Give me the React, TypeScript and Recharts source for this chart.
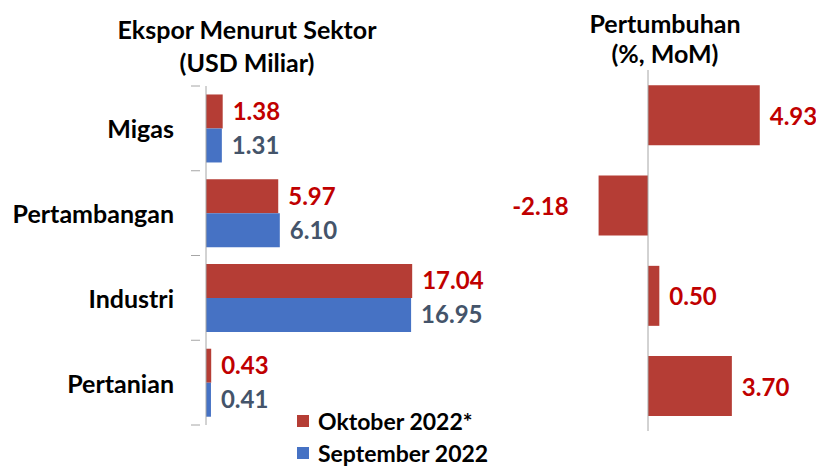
import React from 'react'
import {
  BarChart,
  Bar,
  XAxis,
  YAxis,
  LabelList,
  ReferenceLine,
} from 'recharts'

const sectors = ['Migas', 'Pertambangan', 'Industri', 'Pertanian']
const oktober = [1.38, 5.97, 17.04, 0.43]
const september = [1.31, 6.1, 16.95, 0.41]
const growth = [4.93, -2.18, 0.5, 3.7]

const RED = '#B53D35'
const BLUE = '#4672C4'
const RED_TEXT = '#C00000'
const GRAY_TEXT = '#44546A'
const AXIS = '#A6A6A6'
const FONT = 'Lato, "Open Sans", sans-serif'

const exportData = sectors.map((s, i) => ({
  sector: s,
  okt: oktober[i],
  sep: september[i],
}))
const growthData = sectors.map((s, i) => ({ sector: s, g: growth[i] }))

const fmt = (v: any) => Number(v).toFixed(2)

// category label plus excel-style tick marks between the categories
const SectorTick = (props: any) => {
  const { x, y, payload, index } = props
  const half = payload && payload.offset ? payload.offset : 42
  const axisX = x + 26
  return (
    <g>
      <text
        x={x}
        y={y}
        textAnchor="end"
        dominantBaseline="central"
        fill="#000"
        fontSize={25}
        fontWeight={700}
        fontFamily={FONT}
      >
        {payload.value}
      </text>
      <line x1={axisX - 9} x2={axisX} y1={y - half} y2={y - half} stroke={AXIS} />
      {index === sectors.length - 1 && (
        <line x1={axisX - 9} x2={axisX} y1={y + half} y2={y + half} stroke={AXIS} />
      )}
    </g>
  )
}

const GrowthLabel = (props: any) => {
  const { x, y, width, height, value } = props
  const neg = value < 0
  const end = x + width
  return (
    <text
      x={neg ? end - 30 : end + 10}
      y={y + height / 2}
      textAnchor={neg ? 'end' : 'start'}
      dominantBaseline="central"
      fill={RED_TEXT}
      fontSize={24}
      fontWeight={700}
      fontFamily={FONT}
    >
      {fmt(value)}
    </text>
  )
}

const legendItems = [
  { name: 'Oktober 2022*', color: RED },
  { name: 'September 2022', color: BLUE },
]

const titleStyle: React.CSSProperties = {
  position: 'absolute',
  fontFamily: FONT,
  fontWeight: 700,
  fontSize: 25,
  textAlign: 'center',
  color: '#000',
}

export default function App() {
  return (
    <div
      style={{
        position: 'fixed',
        left: 0,
        top: 0,
        width: 816,
        height: 468,
        background: '#fff',
        overflow: 'hidden',
      }}
    >
      <div style={{ ...titleStyle, left: 47, top: 13, width: 400, lineHeight: '33px' }}>
        Ekspor Menurut Sektor
        <br />
        (USD Miliar)
      </div>
      <div style={{ ...titleStyle, left: 565, top: 8, width: 200, lineHeight: '30px' }}>
        Pertumbuhan
        <br />
        (%, MoM)
      </div>

      <div style={{ position: 'absolute', left: 0, top: 0 }}>
        <BarChart
          width={560}
          height={468}
          data={exportData}
          layout="vertical"
          margin={{ top: 86, right: 112, bottom: 43, left: 0 }}
          barCategoryGap="10%"
          barGap={0}
        >
          <XAxis type="number" domain={[0, 20]} hide />
          <YAxis
            type="category"
            dataKey="sector"
            width={206}
            axisLine={{ stroke: AXIS }}
            tickLine={false}
            tickMargin={26}
            tick={<SectorTick />}
          />
          <Bar dataKey="okt" name="Oktober 2022*" fill={RED} isAnimationActive={false}>
            <LabelList
              dataKey="okt"
              position="right"
              offset={10}
              formatter={fmt}
              fill={RED_TEXT}
              fontSize={24}
              fontWeight={700}
              fontFamily={FONT}
            />
          </Bar>
          <Bar dataKey="sep" name="September 2022" fill={BLUE} isAnimationActive={false}>
            <LabelList
              dataKey="sep"
              position="right"
              offset={10}
              formatter={fmt}
              fill={GRAY_TEXT}
              fontSize={24}
              fontWeight={700}
              fontFamily={FONT}
            />
          </Bar>
        </BarChart>
      </div>

      <div
        style={{
          position: 'absolute',
          left: 297,
          top: 405,
          fontFamily: FONT,
          fontWeight: 700,
          fontSize: 23,
          lineHeight: '28px',
          color: '#000',
        }}
      >
        {legendItems.map((it) => (
          <div key={it.name} style={{ display: 'flex', alignItems: 'center', height: 32 }}>
            <span style={{ width: 12, height: 12, background: it.color, marginRight: 9 }} />
            {it.name}
          </div>
        ))}
      </div>

      <div style={{ position: 'absolute', left: 480, top: 0 }}>
        <BarChart
          width={336}
          height={468}
          data={growthData}
          layout="vertical"
          margin={{ top: 70, right: 32, bottom: 37, left: 100 }}
          barCategoryGap="17%"
        >
          <XAxis type="number" domain={[-3, 6]} hide />
          <YAxis type="category" dataKey="sector" hide />
          <ReferenceLine x={0} stroke={AXIS} />
          <Bar dataKey="g" fill={RED} isAnimationActive={false}>
            <LabelList dataKey="g" content={<GrowthLabel />} />
          </Bar>
        </BarChart>
      </div>
    </div>
  )
}
